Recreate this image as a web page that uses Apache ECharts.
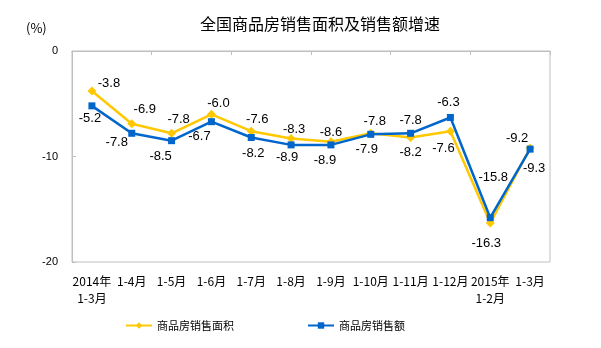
<!DOCTYPE html>
<html><head><meta charset="utf-8">
<script src="https://cdn.jsdelivr.net/npm/echarts@6/dist/echarts.min.js"></script>
<style>html,body{margin:0;padding:0;background:#fff}#c{width:601px;height:348px}</style>
</head><body><div id="c"></div>
<script>
var categories = ['2014年\n1-3月','1-4月','1-5月','1-6月','1-7月','1-8月','1-9月','1-10月','1-11月','1-12月','2015年\n1-2月','1-3月'];
var areaGrowth = [-3.8,-6.9,-7.8,-6.0,-7.6,-8.3,-8.6,-7.8,-8.2,-7.6,-16.3,-9.2];
var amountGrowth = [-5.2,-7.8,-8.5,-6.7,-8.2,-8.9,-8.9,-7.9,-7.8,-6.3,-15.8,-9.3];
var yTicks = [0,-10,-20];
var areaName = '商品房销售面积';
var amountName = '商品房销售额';

// label placement (pixel offsets from each point)
var areaLabelOffset = [[17,-8],[13,-14],[7,-14],[7,-11],[6,-12],[3,-9],[0,-9],[4,-12],[0,15],[-7,17],[-4,20],[-13,-10]];
var amountLabelOffset = [[-2,13],[-15,9],[-11,16],[-12,15],[2,16],[-4,13],[-6,16],[-4,15],[0,-13],[-2,-15],[3,-40],[4,19]];

function build(vals, offs){
  return vals.map(function(v,i){
    return {value:v, label:{offset:offs[i]}};
  });
}
function fmt(p){ return Number(p.value).toFixed(1); }

var chart = echarts.init(document.getElementById('c'), null, {renderer:'canvas'});
var labelFont = {fontFamily:'Liberation Sans, Arial, sans-serif', fontSize:13, color:'#000', formatter:fmt};
chart.setOption({
  animation:false,
  title:{text:'全国商品房销售面积及销售额增速', left:315, top:11, textAlign:'center',
    textStyle:{fontFamily:'Noto Sans CJK SC', fontSize:16, fontWeight:'normal', color:'#000'}},
  graphic:[{type:'text', left:26, top:22, style:{text:'(%)', font:'13px "Noto Sans CJK SC"', fill:'#000'}}],
  legend:{bottom:12, left:120, itemGap:73, itemWidth:26, itemHeight:8,
    textStyle:{fontFamily:'Noto Sans CJK SC', fontSize:11, color:'#000'},
    data:[areaName, amountName]},
  grid:{left:72, right:51, top:51, bottom:86, show:true, borderColor:'#BFBFBF', borderWidth:1},
  xAxis:[{type:'category', data:categories, position:'bottom', boundaryGap:true,
      axisLine:{show:true, lineStyle:{color:'#BFBFBF'}}, axisTick:{show:false},
      axisLabel:{interval:0, margin:11, lineHeight:17, fontFamily:'Noto Sans CJK SC', fontSize:12, color:'#000'}},
    {type:'category', data:categories, position:'top', boundaryGap:true,
      axisLine:{show:true, lineStyle:{color:'#BFBFBF'}},
      axisTick:{show:true, inside:true, length:4, lineStyle:{color:'#BFBFBF'}},
      axisLabel:{show:false}}],
  yAxis:{type:'value', min:yTicks[2], max:yTicks[0], interval:10,
    axisLine:{show:true, lineStyle:{color:'#BFBFBF'}},
    axisTick:{show:true, inside:true, length:4, lineStyle:{color:'#BFBFBF'}},
    splitLine:{show:false},
    axisLabel:{margin:14, fontFamily:'Liberation Sans, Arial, sans-serif', fontSize:11, color:'#000'}},
  series:[
    {name:areaName, type:'line', data:build(areaGrowth, areaLabelOffset), symbol:'diamond', symbolSize:9,
      itemStyle:{color:'#FFC800'}, lineStyle:{color:'#FFC800', width:2.5}, z:2,
      label:Object.assign({show:true, position:'inside'}, labelFont)},
    {name:amountName, type:'line', data:build(amountGrowth, amountLabelOffset), symbol:'rect', symbolSize:7,
      itemStyle:{color:'#0066CC'}, lineStyle:{color:'#0066CC', width:2.5}, z:3,
      label:Object.assign({show:true, position:'inside'}, labelFont)}
  ]
});
</script></body></html>
